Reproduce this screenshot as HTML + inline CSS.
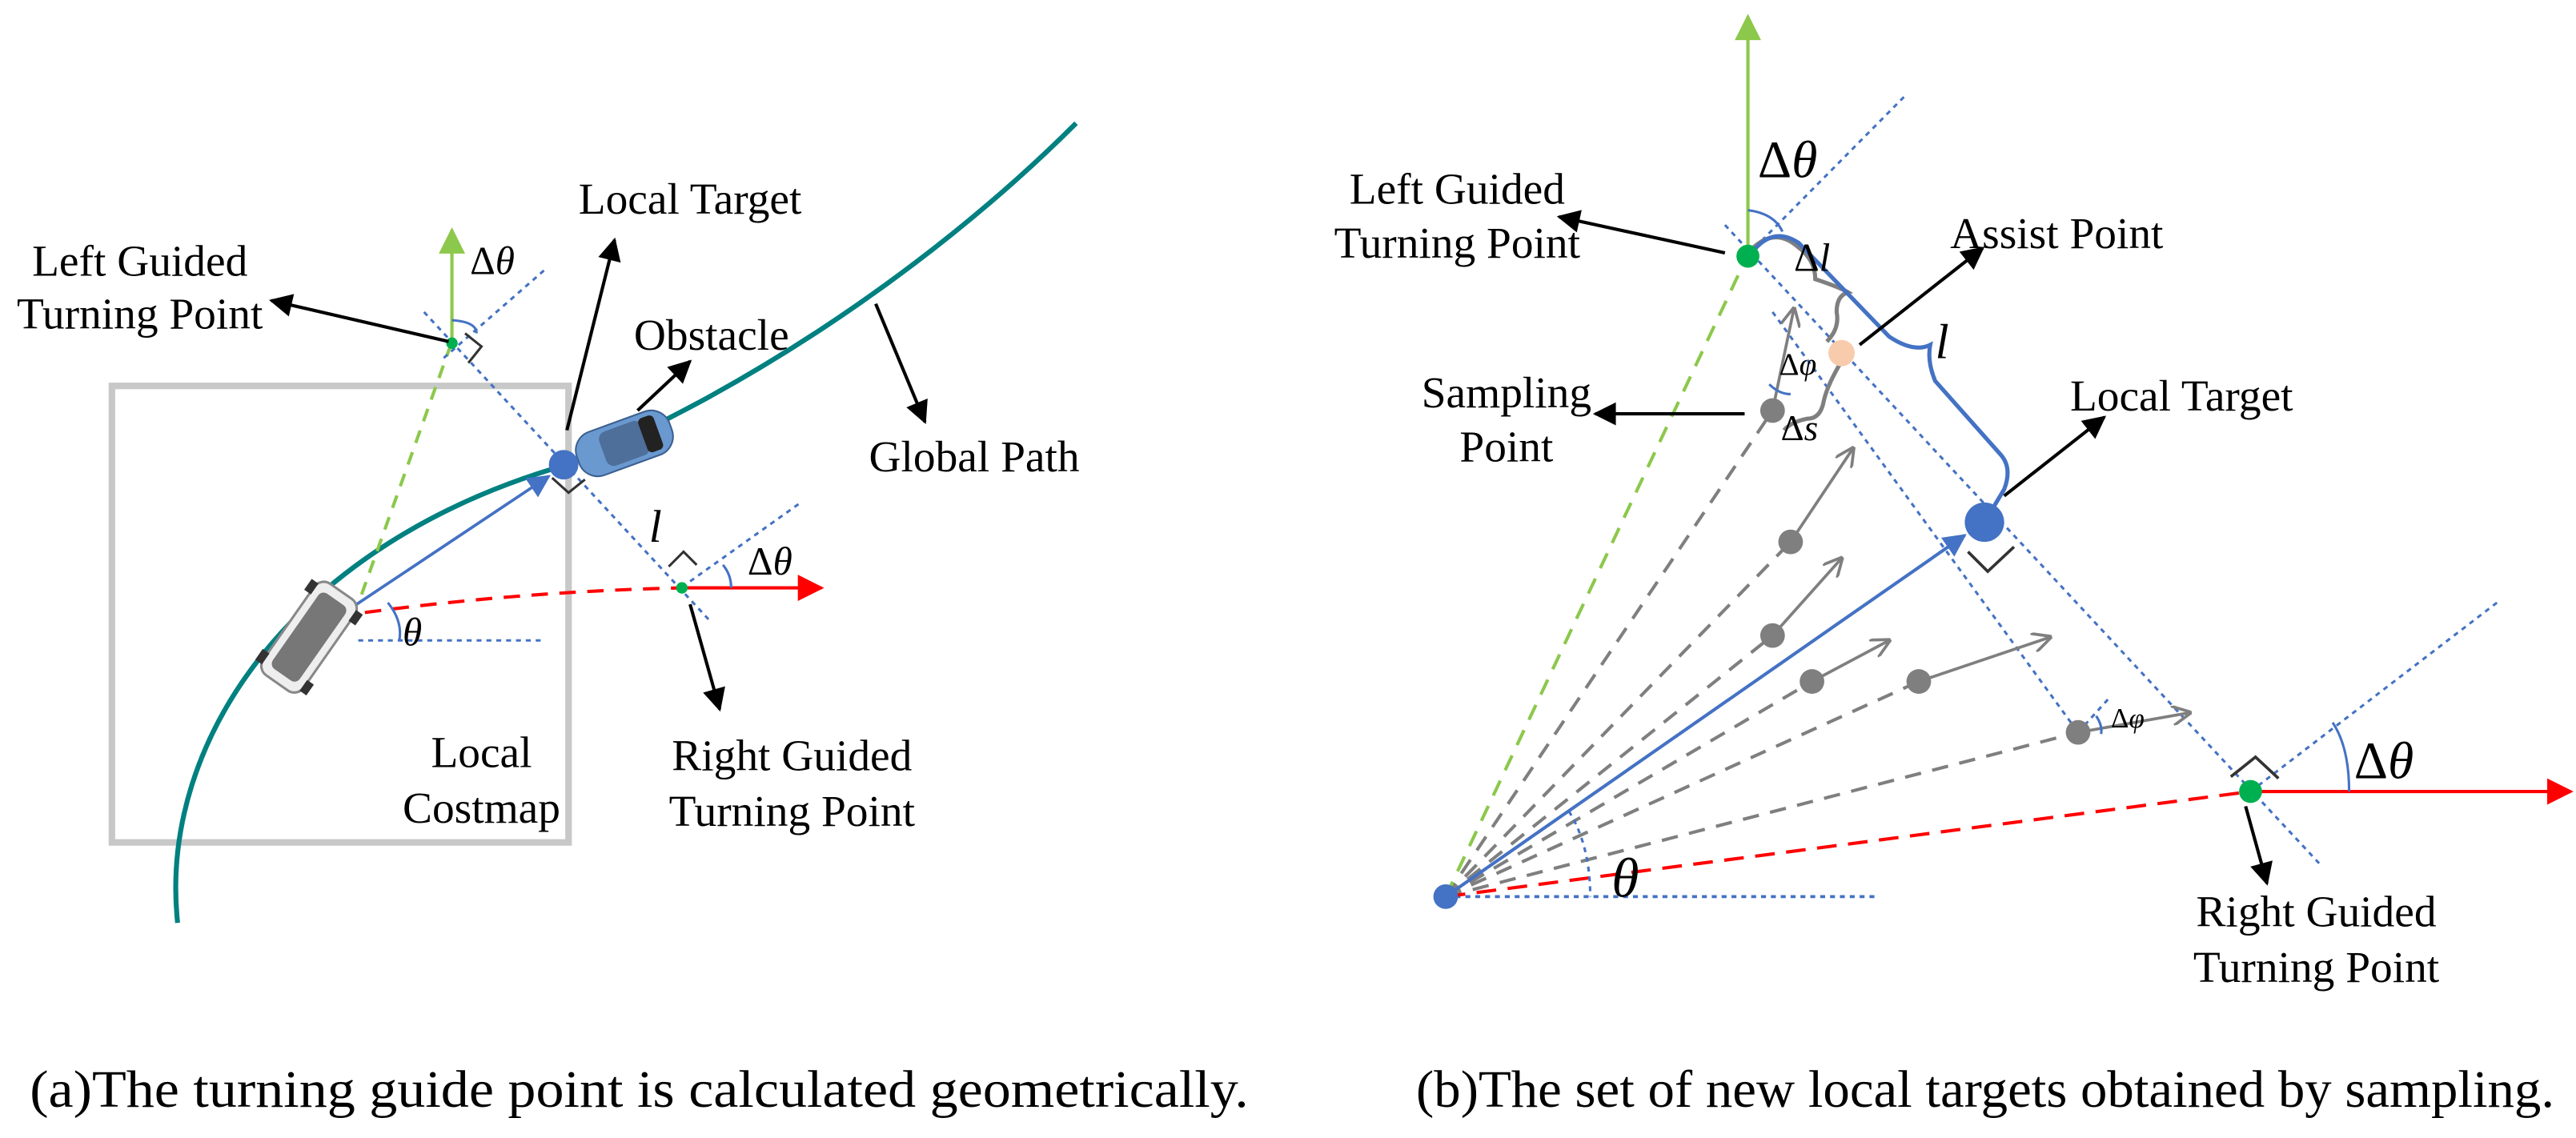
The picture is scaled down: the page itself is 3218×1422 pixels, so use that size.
<!DOCTYPE html>
<html><head><meta charset="utf-8"><style>
html,body{margin:0;padding:0;background:#fff}
svg{display:block}
text{font-family:"Liberation Serif",serif;fill:#000}
</style></head><body>
<svg width="3218" height="1422" viewBox="0 0 1568 693" xmlns="http://www.w3.org/2000/svg">
<defs>
<marker id="abig" viewBox="0 0 10 10" markerWidth="18" markerHeight="14" refX="9" refY="5" orient="auto" markerUnits="userSpaceOnUse"><path d="M0,0 L10,5 L0,10 Z" fill="#000"/></marker>
<marker id="ar" viewBox="0 0 10 10" markerWidth="22" markerHeight="16" refX="9" refY="5" orient="auto" markerUnits="userSpaceOnUse"><path d="M0,0 L10,5 L0,10 Z" fill="#f00"/></marker>
<marker id="ag" viewBox="0 0 10 10" markerWidth="22" markerHeight="16" refX="9" refY="5" orient="auto" markerUnits="userSpaceOnUse"><path d="M0,0 L10,5 L0,10 Z" fill="#8cc84b"/></marker>
<marker id="abl" viewBox="0 0 10 10" markerWidth="18" markerHeight="14" refX="9" refY="5" orient="auto" markerUnits="userSpaceOnUse"><path d="M0,0 L10,5 L0,10 Z" fill="#4472c4"/></marker>
<marker id="agr" viewBox="0 0 10 10" markerWidth="12" markerHeight="12" refX="9" refY="5" orient="auto" markerUnits="userSpaceOnUse"><path d="M0,0 L10,5 L0,10" fill="none" stroke="#7f7f7f" stroke-width="1.5"/></marker>
</defs>

<!-- ===== Panel A ===== -->
<rect x="68" y="235" width="278" height="278" fill="none" stroke="#c8c8c8" stroke-width="4"/>
<path d="M108,562 C96,450 180,330 345,283 C440,245 560,170 655,75" fill="none" stroke="#008080" stroke-width="3"/>
<line x1="220" y1="362" x2="275" y2="208" stroke="#8cc84b" stroke-width="2" stroke-dasharray="8,6"/>
<line x1="275" y1="208" x2="275" y2="140" stroke="#8cc84b" stroke-width="2" marker-end="url(#ag)"/>
<line x1="258" y1="190" x2="432" y2="378" stroke="#4472c4" stroke-width="1.5" stroke-dasharray="3,3"/>
<line x1="270" y1="218" x2="333" y2="163" stroke="#4472c4" stroke-width="1.5" stroke-dasharray="3,3"/>
<line x1="420" y1="354" x2="486" y2="307" stroke="#4472c4" stroke-width="1.5" stroke-dasharray="3,3"/>
<line x1="218" y1="390" x2="332" y2="390" stroke="#4472c4" stroke-width="1.5" stroke-dasharray="3,3"/>
<path d="M222,373 Q320,360 415,358" fill="none" stroke="#f00" stroke-width="2" stroke-dasharray="10,7"/>
<line x1="415" y1="358" x2="500" y2="358" stroke="#f00" stroke-width="2" marker-end="url(#ar)"/>
<line x1="214" y1="370" x2="334" y2="290" stroke="#4472c4" stroke-width="1.8" marker-end="url(#abl)"/>
<path d="M236,367 Q245,378 243,390" fill="none" stroke="#4472c4" stroke-width="1.5"/>
<path d="M275,195 Q290,196 290,203" fill="none" stroke="#4472c4" stroke-width="1.5"/>
<path d="M440,344 Q445,350 445,358" fill="none" stroke="#4472c4" stroke-width="1.5"/>
<path d="M283,203 L293,211 L285,221" fill="none" stroke="#333" stroke-width="1.5"/>
<path d="M336,291 L346,300 L356,292" fill="none" stroke="#333" stroke-width="1.5"/>
<path d="M407,345 L416,336 L424,344" fill="none" stroke="#333" stroke-width="1.5"/>
<g transform="translate(188,388) rotate(-55)">
<rect x="-34" y="-15" width="68" height="30" rx="7" fill="#eee" stroke="#888" stroke-width="1.5"/>
<rect x="-28" y="-10" width="56" height="20" rx="4" fill="#777"/>
<rect x="-30" y="-19" width="8" height="5" fill="#333"/><rect x="22" y="-19" width="8" height="5" fill="#333"/>
<rect x="-30" y="14" width="8" height="5" fill="#333"/><rect x="22" y="14" width="8" height="5" fill="#333"/>
</g>
<g transform="translate(380,270) rotate(-20)">
<rect x="-30" y="-14" width="60" height="28" rx="12" fill="#6a99d0" stroke="#3c5f8f" stroke-width="1"/>
<rect x="-14" y="-11" width="28" height="22" rx="5" fill="#4d6f99"/>
<rect x="12" y="-11" width="10" height="22" rx="3" fill="#222"/>
</g>
<circle cx="343" cy="283" r="9" fill="#4472c4"/>
<circle cx="275" cy="209" r="3.5" fill="#00b050"/>
<circle cx="415" cy="358" r="3.5" fill="#00b050"/>
<line x1="273" y1="208" x2="165" y2="183" stroke="#000" stroke-width="2" marker-end="url(#abig)"/>
<line x1="345" y1="262" x2="374" y2="146" stroke="#000" stroke-width="2" marker-end="url(#abig)"/>
<line x1="388" y1="250" x2="420" y2="220" stroke="#000" stroke-width="2" marker-end="url(#abig)"/>
<line x1="533" y1="185" x2="563" y2="257" stroke="#000" stroke-width="2" marker-end="url(#abig)"/>
<line x1="420" y1="368" x2="438" y2="432" stroke="#000" stroke-width="2" marker-end="url(#abig)"/>
<g font-size="27">
<text x="85" y="168" text-anchor="middle">Left Guided</text>
<text x="85" y="200" text-anchor="middle">Turning Point</text>
<text x="420" y="130" text-anchor="middle">Local Target</text>
<text x="433" y="213" text-anchor="middle">Obstacle</text>
<text x="593" y="287" text-anchor="middle">Global Path</text>
<text x="293" y="467" text-anchor="middle">Local</text>
<text x="293" y="501" text-anchor="middle">Costmap</text>
<text x="482" y="469" text-anchor="middle">Right Guided</text>
<text x="482" y="503" text-anchor="middle">Turning Point</text>
</g>
<text x="286" y="167" font-size="24">Δ<tspan font-style="italic">θ</tspan></text>
<text x="455" y="350" font-size="24">Δ<tspan font-style="italic">θ</tspan></text>
<text x="245" y="393" font-size="24" font-style="italic">θ</text>
<text x="395" y="330" font-size="28" font-style="italic">l</text>
<text x="18" y="674" font-size="32" textLength="742" lengthAdjust="spacingAndGlyphs">(a)The turning guide point is calculated geometrically.</text>

<!-- ===== Panel B ===== -->
<line x1="1050" y1="137" x2="1412" y2="526" stroke="#4472c4" stroke-width="1.5" stroke-dasharray="3,3"/>
<line x1="1064" y1="155" x2="1160" y2="58" stroke="#4472c4" stroke-width="1.5" stroke-dasharray="3,3"/>
<line x1="1079" y1="190" x2="1265" y2="446" stroke="#4472c4" stroke-width="1.5" stroke-dasharray="3,3"/>
<line x1="1370" y1="482" x2="1520" y2="367" stroke="#4472c4" stroke-width="1.5" stroke-dasharray="3,3"/>
<line x1="880" y1="546" x2="1143" y2="546" stroke="#4472c4" stroke-width="1.8" stroke-dasharray="3,3"/>
<line x1="1265" y1="446" x2="1284" y2="425" stroke="#4472c4" stroke-width="1.5" stroke-dasharray="3,3"/>
<g stroke="#7f7f7f" stroke-width="2" stroke-dasharray="10,7" fill="none">
<line x1="880" y1="546" x2="1079" y2="250"/>
<line x1="880" y1="546" x2="1090" y2="330"/>
<line x1="880" y1="546" x2="1079" y2="387"/>
<line x1="880" y1="546" x2="1103" y2="415"/>
<line x1="880" y1="546" x2="1168" y2="415"/>
<line x1="880" y1="546" x2="1265" y2="446"/>
</g>
<g stroke="#7f7f7f" stroke-width="1.8" marker-end="url(#agr)">
<line x1="1079" y1="250" x2="1092" y2="188"/>
<line x1="1090" y1="330" x2="1128" y2="273"/>
<line x1="1079" y1="387" x2="1121" y2="340"/>
<line x1="1103" y1="415" x2="1150" y2="390"/>
<line x1="1168" y1="415" x2="1248" y2="388"/>
<line x1="1265" y1="446" x2="1333" y2="434"/>
</g>
<line x1="880" y1="546" x2="1064" y2="155" stroke="#8cc84b" stroke-width="2" stroke-dasharray="10,7"/>
<line x1="1064" y1="155" x2="1064" y2="10" stroke="#8cc84b" stroke-width="2" marker-end="url(#ag)"/>
<line x1="880" y1="546" x2="1370" y2="482" stroke="#f00" stroke-width="2" stroke-dasharray="12,7"/>
<line x1="1370" y1="482" x2="1565" y2="482" stroke="#f00" stroke-width="2" marker-end="url(#ar)"/>
<line x1="880" y1="546" x2="1196" y2="326" stroke="#4472c4" stroke-width="2" marker-end="url(#abl)"/>
<path d="M1064,128 Q1080,130 1085,141" fill="none" stroke="#4472c4" stroke-width="1.5"/>
<path d="M1420,440 Q1430,455 1430,482" fill="none" stroke="#4472c4" stroke-width="1.5"/>
<path d="M955,494 Q968,515 968,546" fill="none" stroke="#4472c4" stroke-width="1.5" stroke-dasharray="3,3"/>
<path d="M1077,234 Q1083,240 1090,240" fill="none" stroke="#4472c4" stroke-width="1.5"/>
<path d="M1276,436 Q1280,442 1279,447" fill="none" stroke="#4472c4" stroke-width="1.5"/>
<path d="M1198,336 L1210,348 L1226,333" fill="none" stroke="#333" stroke-width="1.8"/>
<path d="M1358,473 L1373,461 L1387,474" fill="none" stroke="#333" stroke-width="1.8"/>
<path d="M1066,152 Q1080,138 1094,150 Q1105,158 1105,170 Q1120,175 1125,178 Q1118,180 1118,190 Q1120,200 1112,208" fill="none" stroke="#7f7f7f" stroke-width="2.5"/>
<path d="M1121,220 Q1112,235 1110,245 Q1108,255 1100,255 Q1090,257 1086,262" fill="none" stroke="#7f7f7f" stroke-width="2.5"/>
<path d="M1068,152 Q1080,138 1095,148 L1150,205 Q1165,215 1175,210 Q1173,220 1178,232 L1218,277 Q1225,285 1220,298 L1214,308" fill="none" stroke="#4472c4" stroke-width="2.5"/>
<circle cx="1079" cy="250" r="7.5" fill="#7f7f7f"/>
<circle cx="1090" cy="330" r="7.5" fill="#7f7f7f"/>
<circle cx="1079" cy="387" r="7.5" fill="#7f7f7f"/>
<circle cx="1103" cy="415" r="7.5" fill="#7f7f7f"/>
<circle cx="1168" cy="415" r="7.5" fill="#7f7f7f"/>
<circle cx="1265" cy="446" r="7.5" fill="#7f7f7f"/>
<circle cx="1121" cy="215" r="8" fill="#f8cbad"/>
<circle cx="1208" cy="318" r="12" fill="#4472c4"/>
<circle cx="1064" cy="156" r="7" fill="#00b050"/>
<circle cx="1370" cy="482" r="7" fill="#00b050"/>
<circle cx="880" cy="546" r="7.5" fill="#4472c4"/>
<line x1="1050" y1="154" x2="949" y2="132" stroke="#000" stroke-width="2" marker-end="url(#abig)"/>
<line x1="1132" y1="210" x2="1207" y2="151" stroke="#000" stroke-width="2" marker-end="url(#abig)"/>
<line x1="1062" y1="252" x2="971" y2="252" stroke="#000" stroke-width="2" marker-end="url(#abig)"/>
<line x1="1220" y1="302" x2="1281" y2="254" stroke="#000" stroke-width="2" marker-end="url(#abig)"/>
<line x1="1367" y1="491" x2="1380" y2="538" stroke="#000" stroke-width="2" marker-end="url(#abig)"/>
<g font-size="27">
<text x="887" y="124" text-anchor="middle">Left Guided</text>
<text x="887" y="157" text-anchor="middle">Turning Point</text>
<text x="1252" y="151" text-anchor="middle">Assist Point</text>
<text x="917" y="248" text-anchor="middle">Sampling</text>
<text x="917" y="281" text-anchor="middle">Point</text>
<text x="1328" y="250" text-anchor="middle">Local Target</text>
<text x="1410" y="564" text-anchor="middle">Right Guided</text>
<text x="1410" y="598" text-anchor="middle">Turning Point</text>
</g>
<text x="1070" y="108" font-size="32">Δ<tspan font-style="italic">θ</tspan></text>
<text x="1433" y="474" font-size="32">Δ<tspan font-style="italic">θ</tspan></text>
<text x="981" y="546" font-size="34" font-style="italic">θ</text>
<text x="1178" y="218" font-size="30" font-style="italic">l</text>
<text x="1092" y="165" font-size="24">Δ<tspan font-style="italic">l</tspan></text>
<text x="1083" y="228" font-size="19">Δ<tspan font-style="italic">φ</tspan></text>
<text x="1084" y="268" font-size="22">Δ<tspan font-style="italic">s</tspan></text>
<text x="1285" y="443" font-size="17">Δ<tspan font-style="italic">φ</tspan></text>
<text x="862" y="674" font-size="32" textLength="693" lengthAdjust="spacingAndGlyphs">(b)The set of new local targets obtained by sampling.</text>
</svg>
</body></html>
